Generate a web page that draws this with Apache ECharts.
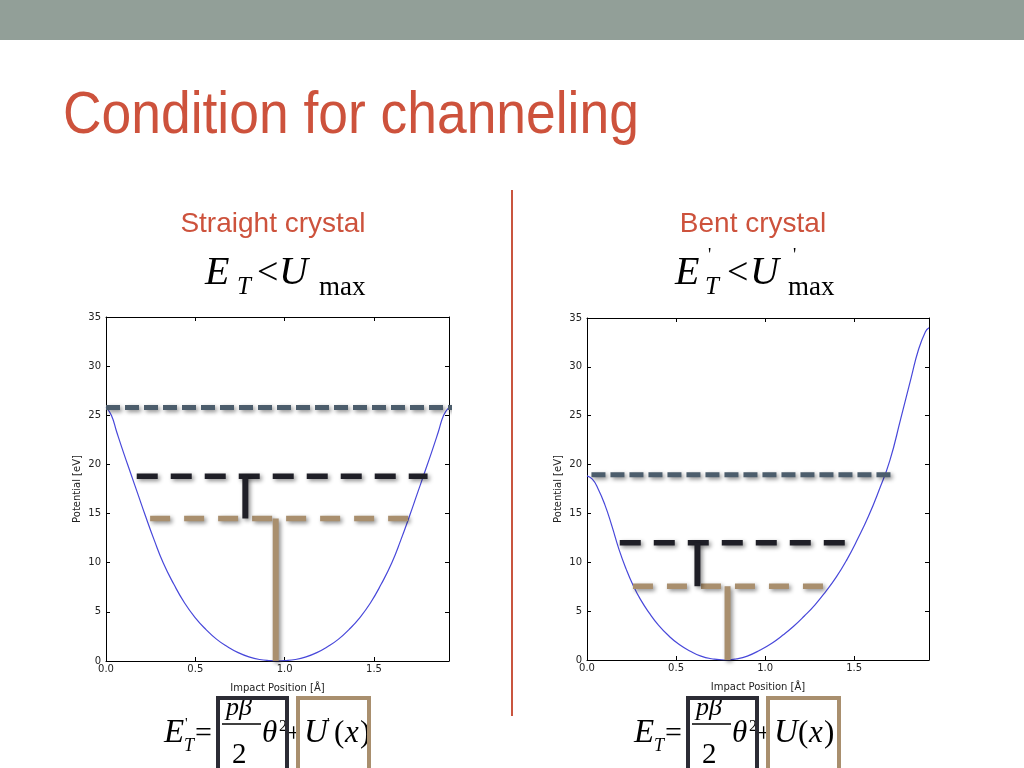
<!DOCTYPE html>
<html>
<head>
<meta charset="utf-8">
<script src="https://cdn.jsdelivr.net/npm/echarts@6/dist/echarts.min.js"></script>
<style>
html, body { margin: 0; padding: 0; background: #fff; }
#chart { width: 1024px; height: 768px; }
</style>
</head>
<body>
<div id="chart"></div>
<script>
// straight crystal potential U(x)
var straightX = [0, 0.03, 0.06, 0.1, 0.14, 0.18, 0.22, 0.27, 0.32, 0.38, 0.44, 0.5, 0.56, 0.62, 0.68, 0.74, 0.8, 0.86, 0.92, 0.96,
    1.0, 1.06, 1.12, 1.18, 1.24, 1.3, 1.36, 1.42, 1.48, 1.54, 1.6, 1.65, 1.7, 1.74, 1.78, 1.82, 1.86, 1.89, 1.92];
var straightU = [25.8, 25.0, 23.3, 21.1, 19.0, 16.9, 14.8, 12.3, 10.0, 7.8, 5.9, 4.4, 3.2, 2.2, 1.45, 0.85, 0.42, 0.15, 0.03, 0,
    0.03, 0.15, 0.42, 0.85, 1.45, 2.2, 3.2, 4.4, 5.9, 7.8, 10.0, 12.3, 14.8, 16.9, 19.0, 21.1, 23.3, 25.0, 25.8];

// bent crystal effective potential U'(x)
var bentX = [0, 0.03, 0.06, 0.1, 0.14, 0.18, 0.22, 0.26, 0.3, 0.35, 0.4, 0.46, 0.52, 0.58, 0.64, 0.7, 0.77, 0.84, 0.9, 0.97,
    1.04, 1.1, 1.16, 1.22, 1.28, 1.34, 1.4, 1.46, 1.52, 1.58, 1.64, 1.7, 1.76, 1.82, 1.86, 1.9, 1.92];
var bentU = [18.85, 18.5, 17.6, 15.9, 13.7, 11.3, 9.3, 7.6, 6.2, 4.8, 3.6, 2.45, 1.55, 0.9, 0.4, 0.13, 0, 0.12, 0.4, 1.0,
    1.75, 2.55, 3.45, 4.5, 5.65, 7.0, 8.5, 10.3, 12.4, 14.7, 17.4, 20.4, 24.6, 28.9, 31.7, 33.6, 34.0];

// dashed levels drawn over the plots: Umax, E_T, U(x)
var straightLevels = [25.8, 18.8, 14.5];
var straightSpans = [[0, 1.99], [0.172, 1.80], [0.247, 1.764]];
var straightSteps = [0.78, 0.95];   // x of the black and tan vertical bars
var bentLevels = [18.95, 12.0, 7.55];
var bentSpans = [[0.025, 1.71], [0.184, 1.504], [0.258, 1.382]];
var bentSteps = [0.62, 0.789];

var xTickLabels = ['0.0', '0.5', '1.0', '1.5'];
var yTickLabels = ['0', '5', '10', '15', '20', '25', '30', '35'];
var xMax = 1.92;

var chart = document.getElementById('chart');
var myChart = echarts.init(chart);

var RED = '#cd523c';
var SLATE = '#4c5d6c';
var INK = '#1f1f27';
var TAN = '#a98f6e';

function xAx(grid, pos) {
    return {
        type: 'value', gridIndex: grid, position: pos, min: 0, max: xMax, interval: 0.5,
        name: pos === 'bottom' ? 'Impact Position [Å]' : '',
        nameLocation: 'middle', nameGap: 22,
        nameTextStyle: { fontFamily: 'DejaVu Sans', fontSize: 10, color: '#222' },
        axisLine: { show: true, onZero: false, lineStyle: { color: '#000', width: 1 } },
        axisTick: { show: true, inside: true, length: 4, lineStyle: { color: '#000' } },
        axisLabel: {
            show: pos === 'bottom', margin: 3, fontFamily: 'DejaVu Sans', fontSize: 10, color: '#222',
            formatter: function (v) {
                var i = Math.round(v / 0.5);
                return (Math.abs(v - i * 0.5) < 1e-6 && i < xTickLabels.length) ? xTickLabels[i] : '';
            }
        },
        splitLine: { show: false }
    };
}

function yAx(grid, pos) {
    return {
        type: 'value', gridIndex: grid, position: pos, min: 0, max: 35, interval: 5,
        name: pos === 'left' ? 'Potential [eV]' : '',
        nameLocation: 'middle', nameGap: 24,
        nameTextStyle: { fontFamily: 'DejaVu Sans', fontSize: 10, color: '#222' },
        axisLine: { show: true, onZero: false, lineStyle: { color: '#000', width: 1 } },
        axisTick: { show: true, inside: true, length: 4, lineStyle: { color: '#000' } },
        axisLabel: {
            show: pos === 'left', margin: 5, fontFamily: 'DejaVu Sans', fontSize: 10, color: '#222',
            formatter: function (v) { return yTickLabels[Math.round(v / 5)]; }
        },
        splitLine: { show: false }
    };
}

function curve(idx, xs, ys) {
    var pts = [];
    xs.forEach(function (x, i) { pts.push([x, ys[i]]); });
    return {
        type: 'line', xAxisIndex: idx * 2, yAxisIndex: idx * 2, data: pts,
        smooth: 0.5, symbol: 'none', silent: true, z: 2,
        lineStyle: { color: '#4848da', width: 1.2 }
    };
}

var shadow = { shadowBlur: 4, shadowColor: 'rgba(0,0,0,0.45)', shadowOffsetX: 2, shadowOffsetY: 2 };

function seg(idx, pts, color, dash, width) {
    return {
        type: 'line', xAxisIndex: idx * 2, yAxisIndex: idx * 2, data: pts,
        symbol: 'none', silent: true, clip: false, z: 4,
        lineStyle: Object.assign({ color: color, width: width || 5, type: dash || 'solid', cap: 'butt' }, shadow)
    };
}

function overlays(idx, levels, spans, steps) {
    return [
        seg(idx, [[spans[0][0], levels[0]], [spans[0][1], levels[0]]], SLATE, [14, 5]),
        seg(idx, [[spans[1][0], levels[1]], [spans[1][1], levels[1]]], INK, [21, 13], 5.5),
        seg(idx, [[spans[2][0], levels[2]], [spans[2][1], levels[2]]], TAN, [20, 14], 5.5),
        seg(idx, [[steps[0], levels[1]], [steps[0], levels[2]]], INK, 'solid', 6),
        seg(idx, [[steps[1], levels[2]], [steps[1], 0]], TAN, 'solid', 6)
    ];
}

// text placed by baseline
function t(x, base, text, size, opts) {
    opts = opts || {};
    return {
        type: 'text', x: x, y: base - 0.34 * size, scaleX: opts.sx || 1, z: 10, silent: true,
        style: {
            text: text, fill: opts.fill || '#000',
            font: (opts.italic ? 'italic ' : '') + size + 'px ' + (opts.family || '"Liberation Serif", "Times New Roman", serif'),
            align: opts.align || 'left', verticalAlign: 'middle'
        }
    };
}

var SANS = '"Liberation Sans", Arial, Helvetica, sans-serif';

function bottomFormula(x0, primed) {
    var g = [];
    g.push(t(x0, 745, 'E', 33, { italic: true }));
    if (primed) g.push(t(x0 + 21, 729, "'", 15));
    g.push(t(x0 + 20, 752, 'T', 18, { italic: true }));
    g.push(t(x0 + 31, 744, '=', 30));
    g.push({ type: 'rect', shape: { x: x0 + 54, y: 698, width: 69, height: 80 }, z: 11, silent: true,
        style: { fill: 'none', stroke: '#2c2c35', lineWidth: 4 } });
    g.push(t(x0 + 62, 717, 'pβ', 26, { italic: true }));
    g.push({ type: 'line', shape: { x1: x0 + 58, y1: 724, x2: x0 + 97, y2: 724 }, z: 10, silent: true,
        style: { stroke: '#000', lineWidth: 1.5 } });
    g.push(t(x0 + 68, 765, '2', 29));
    g.push(t(x0 + 98, 744, 'θ', 31, { italic: true }));
    g.push(t(x0 + 115, 732, '2', 16));
    g.push(t(x0 + 122, 744, '+', 27));
    var ux = x0 + 140;
    g.push({ type: 'rect', shape: { x: ux - 6, y: 698, width: 71, height: 80 }, z: 11, silent: true,
        style: { fill: 'none', stroke: TAN, lineWidth: 4 } });
    g.push(t(ux, 745, 'U', 33, { italic: true }));
    if (primed) { g.push(t(ux + 23, 729, "'", 15)); ux += 6; }
    g.push(t(ux + 24, 744, '(', 31));
    g.push(t(ux + 35, 744, 'x', 31, { italic: true }));
    g.push(t(ux + 50, 744, ')', 31));
    return g;
}

var graphics = [
    { type: 'rect', shape: { x: 0, y: 0, width: 1024, height: 40 }, style: { fill: '#929f98' }, silent: true },
    t(63, 137, 'Condition for channeling', 59, { family: SANS, fill: RED, sx: 0.905 }),
    { type: 'line', shape: { x1: 512, y1: 190, x2: 512, y2: 716 }, style: { stroke: '#c9553f', lineWidth: 2 }, silent: true },
    t(273, 234, 'Straight crystal', 28, { family: SANS, fill: RED, align: 'center' }),
    t(753, 234, 'Bent crystal', 28, { family: SANS, fill: RED, align: 'center' }),
    // E_T < U_max
    t(205, 287, 'E', 40, { italic: true }),
    t(237, 296, 'T', 25, { italic: true }),
    t(257, 287, '<', 38),
    t(279, 287, 'U', 40, { italic: true }),
    t(319, 297, 'max', 27),
    // E'_T < U'_max
    t(675, 287, 'E', 40, { italic: true }),
    t(708, 262, "'", 18),
    t(705, 296, 'T', 25, { italic: true }),
    t(727, 287, '<', 38),
    t(750, 287, 'U', 40, { italic: true }),
    t(793, 262, "'", 18),
    t(788, 297, 'max', 27)
].concat(bottomFormula(164, true), bottomFormula(634, false));

option = {
    animation: false,
    backgroundColor: '#fff',
    grid: [
        { left: 106, top: 317, width: 343, height: 344 },
        { left: 587, top: 318, width: 342, height: 342 }
    ],
    xAxis: [xAx(0, 'bottom'), xAx(0, 'top'), xAx(1, 'bottom'), xAx(1, 'top')],
    yAxis: [yAx(0, 'left'), yAx(0, 'right'), yAx(1, 'left'), yAx(1, 'right')],
    series: [curve(0, straightX, straightU), curve(1, bentX, bentU)]
        .concat(overlays(0, straightLevels, straightSpans, straightSteps))
        .concat(overlays(1, bentLevels, bentSpans, bentSteps))
        .concat([
            // mirror axes need a series to show
            { type: 'line', xAxisIndex: 1, yAxisIndex: 1, data: [], silent: true },
            { type: 'line', xAxisIndex: 3, yAxisIndex: 3, data: [], silent: true }
        ]),
    graphic: graphics
};

myChart.setOption(option);
</script>
</body>
</html>
